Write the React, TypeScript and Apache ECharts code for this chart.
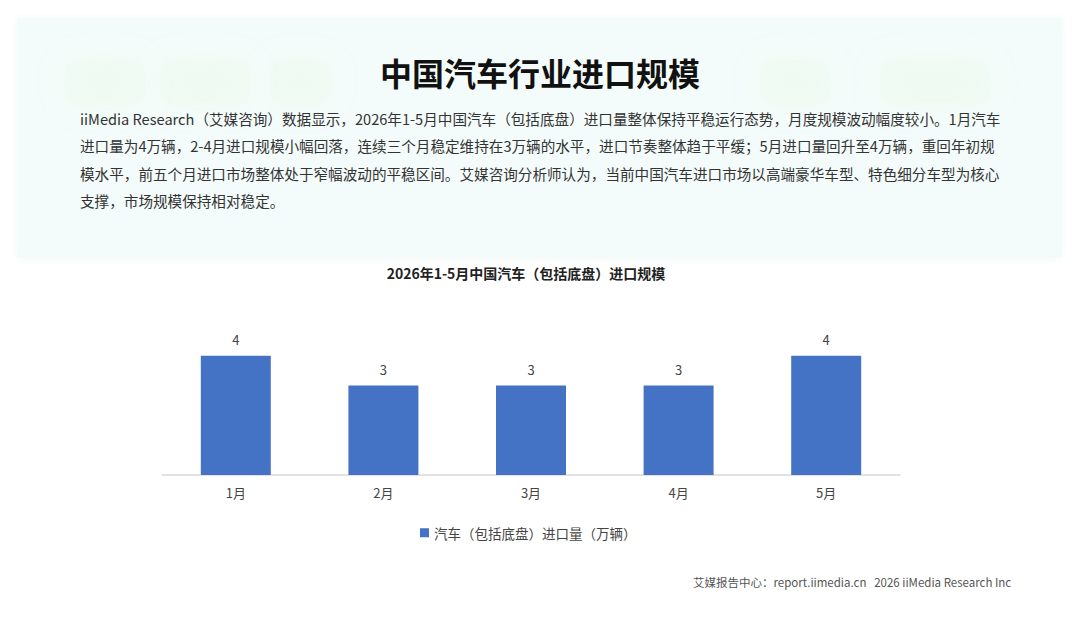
import React, { useEffect, useRef } from "react";
import * as echarts from "echarts";

const categories = ["1月", "2月", "3月", "4月", "5月"];
const importVolume = [4, 3, 3, 3, 4];
const seriesName = "汽车（包括底盘）进口量（万辆）";
const pageTitle = "中国汽车行业进口规模";
const chartTitle = "2026年1-5月中国汽车（包括底盘）进口规模";
const paragraphLines = [
  "iiMedia Research（艾媒咨询）数据显示，2026年1-5月中国汽车（包括底盘）进口量整体保持平稳运行态势，月度规模波动幅度较小。1月汽车",
  "进口量为4万辆，2-4月进口规模小幅回落，连续三个月稳定维持在3万辆的水平，进口节奏整体趋于平缓；5月进口量回升至4万辆，重回年初规",
  "模水平，前五个月进口市场整体处于窄幅波动的平稳区间。艾媒咨询分析师认为，当前中国汽车进口市场以高端豪华车型、特色细分车型为核心",
  "支撑，市场规模保持相对稳定。",
];
const footerText = "艾媒报告中心：report.iimedia.cn   2026 iiMedia Research Inc";

const FONT = "'Noto Sans CJK SC', 'Noto Sans', sans-serif";

export default function App() {
  const ref = useRef<HTMLDivElement>(null);
  useEffect(() => {
    if (!ref.current) return;
    const chart = echarts.init(ref.current, null, { renderer: "svg" });
    const blobs = [
      [65, 60, 80, 45],
      [160, 60, 90, 45],
      [270, 60, 60, 45],
      [760, 60, 70, 45],
      [880, 60, 110, 45],
    ].map(([x, y, w, h]) => ({
      type: "rect",
      silent: true,
      z: -9,
      shape: { x, y, width: w, height: h, r: 14 },
      style: { fill: "rgba(236,249,236,0.35)", shadowBlur: 30, shadowColor: "rgba(232,248,232,0.8)" },
    }));
    chart.setOption({
      animation: false,
      backgroundColor: "#ffffff",
      textStyle: { fontFamily: FONT },
      title: {
        text: chartTitle,
        left: 521,
        top: 261,
        textAlign: "center",
        textStyle: { fontSize: 14, fontWeight: "bold", color: "#222", fontFamily: FONT },
      },
      graphic: [
        {
          type: "rect",
          silent: true,
          z: -10,
          shape: { x: 17, y: 18, width: 1045, height: 240, r: 2 },
          style: {
            fill: "#f3fcfa",
            shadowBlur: 8,
            shadowColor: "rgba(240,250,247,1)",
          },
        },
        ...blobs,
        {
          type: "text",
          left: "center",
          top: 56,
          style: {
            text: pageTitle,
            fontSize: 32,
            fontWeight: "bold",
            fill: "#111",
            fontFamily: FONT,
          },
        },
        ...paragraphLines.map((line, i) => ({
          type: "text",
          x: 80,
          y: 111 + i * 27.5,
          style: {
            text: line,
            fontSize: 14.6,
            fill: "#333",
            fontFamily: FONT,
          },
        })),
        {
          type: "text",
          x: 693,
          y: 576,
          style: { text: footerText, fontSize: 11.5, fill: "#555", fontFamily: FONT },
        },
      ],
      legend: {
        data: [seriesName],
        left: 415,
        top: 521,
        icon: "rect",
        itemWidth: 9,
        itemHeight: 9,
        itemGap: 6,
        textStyle: { fontSize: 13.5, color: "#444", fontFamily: FONT },
      },
      grid: { left: 162, right: 180, top: 326, bottom: 147, containLabel: false },
      xAxis: {
        type: "category",
        data: categories,
        axisLine: { lineStyle: { color: "#d9d9d9", width: 1.5 } },
        axisTick: { show: false },
        axisLabel: { fontSize: 13, color: "#444", margin: 11, fontFamily: FONT },
      },
      yAxis: {
        type: "value",
        min: 0,
        max: 5,
        interval: 1,
        show: false,
        splitLine: { show: false },
      },
      series: [
        {
          name: seriesName,
          type: "bar",
          data: importVolume,
          barWidth: 70,
          itemStyle: { color: "#4472c4" },
          label: {
            show: true,
            position: "top",
            distance: 10,
            fontSize: 13,
            color: "#444",
            fontFamily: FONT,
          },
        },
      ],
    });
    return () => chart.dispose();
  }, []);
  return (
    <div
      ref={ref}
      style={{ position: "fixed", left: 0, top: 0, width: 1080, height: 622 }}
    />
  );
}
